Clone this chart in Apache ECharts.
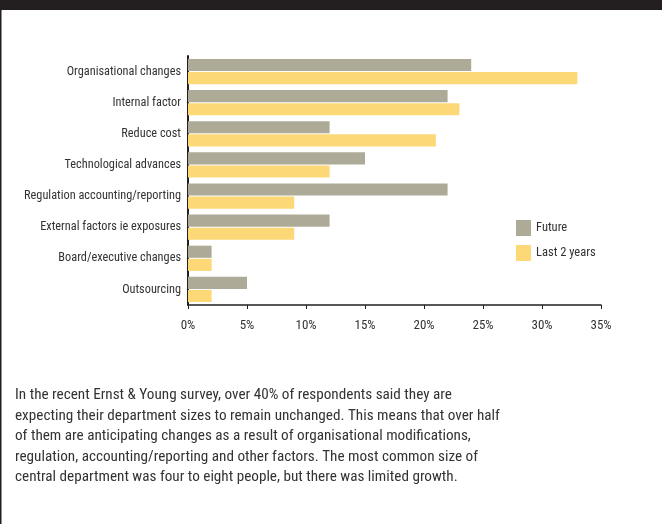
<!DOCTYPE html>
<html>
<head>
<meta charset="utf-8">
<script src="https://cdn.jsdelivr.net/npm/echarts@6/dist/echarts.min.js"></script>
<style>
html,body{margin:0;padding:0;background:#fff;}
#chart{width:662px;height:524px;}
</style>
</head>
<body>
<div id="chart"></div>
<script>
const categories = ["Organisational changes","Internal factor","Reduce cost","Technological advances","Regulation accounting/reporting","External factors ie exposures","Board/executive changes","Outsourcing"];
const futureValues = [24, 22, 12, 15, 22, 12, 2, 5];
const last2YearsValues = [33, 23, 21, 12, 9, 9, 2, 2];
const tickLabels = ["0%","5%","10%","15%","20%","25%","30%","35%"];
const paragraphLines = [
  "In the recent Ernst & Young survey, over 40% of respondents said they are",
  "expecting their department sizes to remain unchanged. This means that over half",
  "of them are anticipating changes as a result of organisational modifications,",
  "regulation, accounting/reporting and other factors. The most common size of",
  "central department was four to eight people, but there was limited growth."
];

const chart = echarts.init(document.getElementById('chart'), null, {renderer:'canvas'});
const narrow = "'Roboto Condensed', 'Liberation Sans', sans-serif";
const graphics = [
  {type:'rect', left:0, top:0, shape:{width:662, height:10}, style:{fill:'#231f20'}, silent:true},
  {type:'rect', left:0, top:0, shape:{width:1.5, height:524}, style:{fill:'#231f20'}, silent:true}
];
paragraphLines.forEach((t,i)=>{
  graphics.push({type:'text', left:15, top:388 + i*20.4,
    style:{text:t, font:"15.2px 'Roboto Condensed', sans-serif", fill:'#333333'}, silent:true});
});

chart.setOption({
  animation:false,
  backgroundColor:'#ffffff',
  grid:{left:188, right:61, top:56, bottom:219, containLabel:false},
  legend:{
    orient:'vertical', left:516, top:220, padding:0, itemWidth:15, itemHeight:16, itemGap:9,
    icon:'rect',
    textStyle:{fontFamily:narrow, fontSize:12.5, color:'#333333'},
    data:['Future','Last 2 years']
  },
  xAxis:{
    type:'value', min:0, max:35, interval:5,
    axisLine:{show:true, lineStyle:{color:'#231f20', width:1.5}},
    axisTick:{show:true, length:4, lineStyle:{color:'#231f20'}},
    splitLine:{show:false},
    axisLabel:{margin:14, fontFamily:narrow, fontSize:13, color:'#333333',
      formatter:(v)=>tickLabels[Math.round(v/5)]}
  },
  yAxis:{
    type:'category', data:categories, inverse:true,
    axisLine:{show:true, lineStyle:{color:'#231f20', width:2}},
    axisTick:{show:false},
    axisLabel:{margin:7, fontFamily:narrow, fontSize:12.3, color:'#333333'}
  },
  series:[
    {name:'Future', type:'bar', data:futureValues, itemStyle:{color:'#adab97'},
      barGap:'8%', barCategoryGap:'19%'},
    {name:'Last 2 years', type:'bar', data:last2YearsValues, itemStyle:{color:'#fdd877'},
      barGap:'8%', barCategoryGap:'19%'}
  ],
  graphic:graphics
});
</script>
</body>
</html>
